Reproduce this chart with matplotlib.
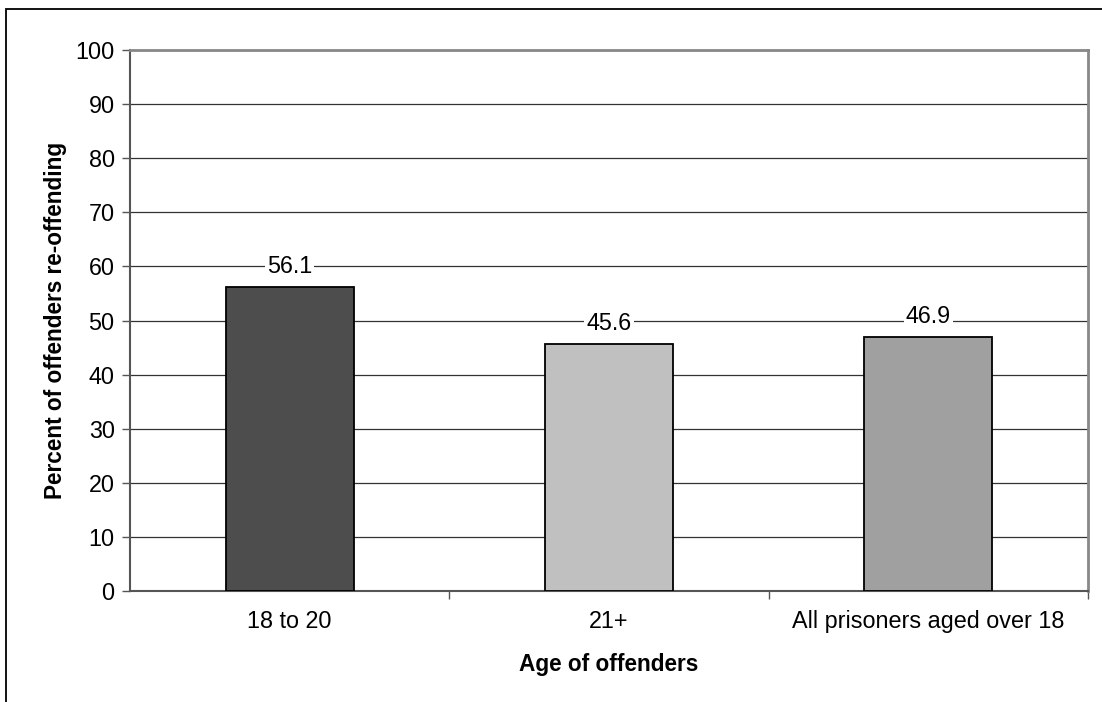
import matplotlib
matplotlib.use('Agg')
from matplotlib import pyplot as plt
from matplotlib.patches import Rectangle
import numpy as np

plt.rcParams['font.family'] = ['Liberation Sans', 'DejaVu Sans']

categories = ['18 to 20', '21+', 'All prisoners aged over 18']
values = [56.1, 45.6, 46.9]
bar_colours = ['#4d4d4d', '#c0c0c0', '#a0a0a0']
yticks = list(range(0, 101, 10))

FS = 16.8

fig = plt.figure(figsize=(11.02, 7.02), dpi=100)

# outer chart border (runs off the right and bottom of the image)
fig.patches.append(Rectangle((6 / 1102, -0.05), 1.2, 1 - 9 / 702 + 0.05,
                             transform=fig.transFigure, fill=False,
                             edgecolor='black', linewidth=1.3))

ax = fig.add_axes([130 / 1102, 1 - 591 / 702, 958 / 1102, 541 / 702])

x = np.arange(len(categories))
ax.bar(x, values, width=0.4, color=bar_colours, edgecolor='black',
       linewidth=1.3, zorder=3)

for xi, v in zip(x, values):
    ax.text(xi, v + 3.8, '{:.1f}'.format(v), ha='center', va='center',
            fontsize=FS, zorder=4,
            bbox=dict(facecolor='white', edgecolor='none', pad=1.5))

ax.set_xlim(-0.5, len(categories) - 0.5)
ax.set_ylim(0, 100)
ax.set_yticks(yticks)
ax.yaxis.grid(True, color='#333333', linewidth=0.9, zorder=0)
ax.set_axisbelow(True)

ax.set_xticks(x)
ax.set_xticklabels(categories, fontsize=FS)
ax.set_xticks(np.arange(len(categories)) + 0.5, minor=True)
ax.tick_params(axis='x', which='major', length=0, pad=14)
ax.tick_params(axis='x', which='minor', length=6, width=1, color='#555555')
ax.tick_params(axis='y', length=6, width=1, color='#555555', labelsize=FS,
               pad=5)

for side in ['top', 'right']:
    ax.spines[side].set_color('#888888')
    ax.spines[side].set_linewidth(2)
for side in ['left', 'bottom']:
    ax.spines[side].set_color('#555555')
    ax.spines[side].set_linewidth(1.5)

ax.set_ylabel('Percent of offenders re-offending', fontsize=16.3,
              fontweight='bold', labelpad=6)
ax.set_xlabel('Age of offenders', fontsize=16.3, fontweight='bold',
              labelpad=14)

fig.savefig('out.png', dpi=100)
